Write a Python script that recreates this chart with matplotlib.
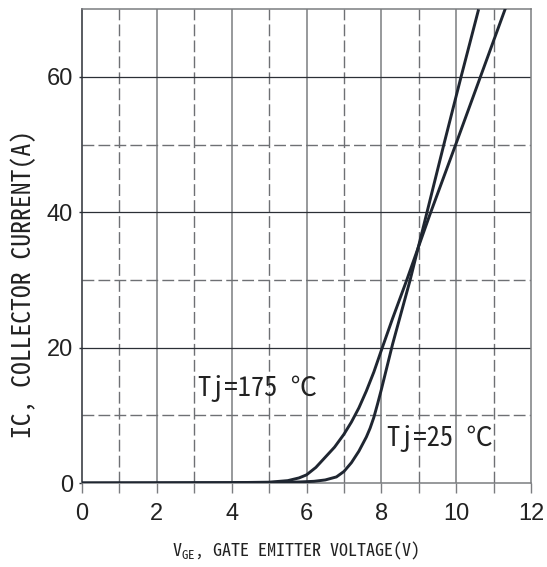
import matplotlib
matplotlib.use("Agg")
import matplotlib.pyplot as plt
from matplotlib.ticker import FixedLocator, FuncFormatter

# Transfer characteristic: collector current vs gate-emitter voltage
vge_25 = [0, 2, 4, 5.0, 5.8, 6.2, 6.5, 6.8, 7.0, 7.2, 7.4, 7.6, 7.7, 7.8, 7.9,
          8.0, 8.3, 8.77, 9.22, 9.67, 10.13, 10.6]
ic_25 = [0, 0.02, 0.05, 0.08, 0.15, 0.25, 0.45, 0.9, 1.7, 3.0, 4.7, 6.8, 8.1,
         9.7, 11.7, 13.8, 20.5, 30, 40, 50, 60, 70]

vge_175 = [0, 2, 4, 5.0, 5.5, 5.8, 6.0, 6.25, 6.5, 6.75, 7.0, 7.2, 7.4, 7.6,
           7.8, 8.0, 8.3, 8.68, 9.3, 10.0, 10.66, 11.34]
ic_175 = [0, 0.02, 0.05, 0.12, 0.35, 0.75, 1.2, 2.3, 3.8, 5.3, 7.2, 9.0, 11.1,
          13.6, 16.4, 19.6, 24.3, 30, 39.7, 50.2, 60.2, 70.5]

x_ticks = list(range(0, 13))
y_ticks = [0, 20, 40, 60]
x_grid_solid = [2, 4, 6, 8, 10]
x_grid_dashed = [1, 3, 5, 7, 9, 11]
y_grid_solid = [20, 40, 60]
y_grid_dashed = [10, 30, 50]

label_175 = "Tj=175 ℃"
label_25 = "Tj=25 ℃"
xlabel = "V$_{\\mathregular{GE}}$, GATE EMITTER VOLTAGE(V)"
ylabel = "IC, COLLECTOR CURRENT(A)"

W, H = 547, 567
fig = plt.figure(figsize=(W / 100, H / 100), dpi=100)
ax = fig.add_axes([82 / W, 1 - 483 / H, 449 / W, (483 - 9.3) / H])

ax.set_xlim(0, 12)
ax.set_ylim(0, 70)

grid_grey = "#7b7d80"
dash_grey = "#6e7074"
dark = "#2b2f36"
curve = "#1f2631"

for x in x_grid_solid:
    ax.axvline(x, color=grid_grey, lw=1.1, zorder=1)
for x in x_grid_dashed:
    ax.axvline(x, color=dash_grey, lw=1.0, ls=(0, (8.5, 3)), zorder=1)
for y in y_grid_solid:
    ax.axhline(y, color=dark, lw=0.9, zorder=1)
for y in y_grid_dashed:
    ax.axhline(y, color=dash_grey, lw=1.0, ls=(0, (8.5, 3)), zorder=1)

ax.plot(vge_25, ic_25, color=curve, lw=2.1, zorder=3, solid_capstyle="butt")
ax.plot(vge_175, ic_175, color=curve, lw=2.1, zorder=3, solid_capstyle="butt")

for side in ["top", "right", "bottom"]:
    ax.spines[side].set_color(grid_grey)
    ax.spines[side].set_linewidth(1.1)
ax.spines["left"].set_color(dark)
ax.spines["left"].set_linewidth(1.1)

ax.xaxis.set_major_locator(FixedLocator(x_ticks))
ax.xaxis.set_major_formatter(FuncFormatter(lambda v, p: f"{int(v)}" if int(v) % 2 == 0 else ""))
ax.yaxis.set_major_locator(FixedLocator(y_ticks))

tick_font = "Liberation Sans"
ax.tick_params(axis="x", direction="out", length=7.5, width=1.0, color=grid_grey,
               pad=7, labelsize=17, labelcolor="#222222")
ax.tick_params(axis="y", direction="out", length=2.5, width=1.0, color=dark,
               pad=4, labelsize=17, labelcolor="#222222")
for lab in ax.get_xticklabels() + ax.get_yticklabels():
    lab.set_fontfamily(tick_font)

mono_family = ["Noto Sans Mono CJK SC", "Noto Sans CJK SC", "DejaVu Sans"]
ax.text(3.1, 14.0, label_175, fontsize=19, family=mono_family, color="#222222",
        ha="left", va="center", zorder=4)
ax.text(8.15, 6.6, label_25, fontsize=19, family=mono_family, color="#222222",
        ha="left", va="center", zorder=4)

fig.text(23 / W, 1 - 284 / H, ylabel, rotation=90, ha="center", va="center",
         fontsize=18.5, family=mono_family, color="#222222")
fig.text(296 / W, 1 - 551 / H, xlabel, ha="center", va="center",
         fontsize=13, family=mono_family, color="#222222")

fig.savefig("out.png", dpi=100, facecolor="white")
